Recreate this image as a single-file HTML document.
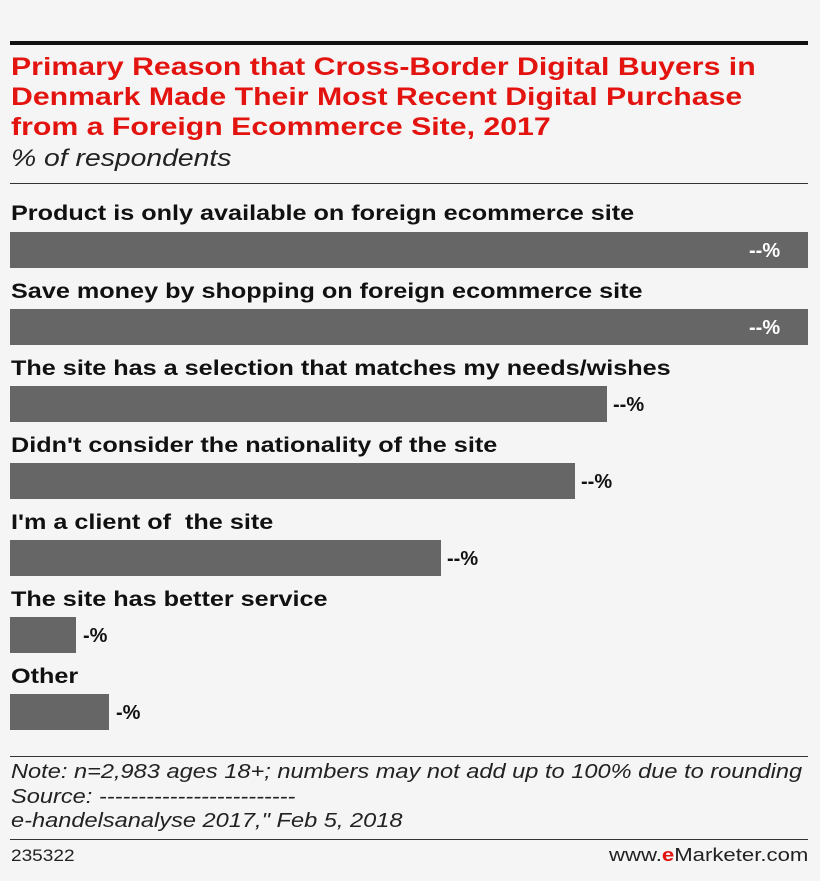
<!DOCTYPE html>
<html><head><meta charset="utf-8"><style>
body{margin:0;width:820px;height:881px;background:#f5f5f5;font-family:"Liberation Sans",sans-serif;position:relative;overflow:hidden}
.a{position:absolute;white-space:nowrap}
.s{transform-origin:0 0;transform:scaleX(1.2)}
.t{left:11px;color:#e3140f;font-weight:bold;font-size:25px;line-height:30px}
.l{left:11px;font-weight:bold;font-size:21px;color:#111}
.b{position:absolute;left:10px;height:36px;background:#666}
.v{font-weight:bold;font-size:20px;color:#111}
.n{left:11px;font-style:italic;font-size:20px;color:#222}
</style></head><body>
<div class="a" style="left:10px;top:41px;width:798px;height:4px;background:#111"></div>
<div class="a t s" style="top:52px;transform:scaleX(1.21)">Primary Reason that Cross-Border Digital Buyers in<br>Denmark Made Their Most Recent Digital Purchase<br>from a Foreign Ecommerce Site, 2017</div>
<div class="a s" style="left:11px;top:145px;font-style:italic;font-size:24px;color:#222;transform:scaleX(1.18)">% of respondents</div>
<div class="a" style="left:10px;top:183px;width:798px;height:1px;background:#333"></div>

<div class="a l s" style="top:202px">Product is only available on foreign ecommerce site</div>
<div class="b" style="top:232px;width:798px"></div>
<div class="a v" style="left:749px;top:240px;color:#fff">--%</div>

<div class="a l s" style="top:280px">Save money by shopping on foreign ecommerce site</div>
<div class="b" style="top:309px;width:798px"></div>
<div class="a v" style="left:749px;top:317px;color:#fff">--%</div>

<div class="a l s" style="top:357px">The site has a selection that matches my needs/wishes</div>
<div class="b" style="top:386px;width:597px"></div>
<div class="a v" style="left:613px;top:394px">--%</div>

<div class="a l s" style="top:434px">Didn't consider the nationality of the site</div>
<div class="b" style="top:463px;width:565px"></div>
<div class="a v" style="left:581px;top:471px">--%</div>

<div class="a l s" style="top:511px">I'm a client of &nbsp;the site</div>
<div class="b" style="top:540px;width:431px"></div>
<div class="a v" style="left:447px;top:548px">--%</div>

<div class="a l s" style="top:588px">The site has better service</div>
<div class="b" style="top:617px;width:66px"></div>
<div class="a v" style="left:83px;top:625px">-%</div>

<div class="a l s" style="top:665px">Other</div>
<div class="b" style="top:694px;width:99px"></div>
<div class="a v" style="left:116px;top:702px">-%</div>

<div class="a" style="left:10px;top:756px;width:798px;height:1px;background:#333"></div>
<div class="a n s" style="top:760px;line-height:24.5px;transform:scaleX(1.18)">Note: n=2,983 ages 18+; numbers may not add up to 100% due to rounding<br>Source: -------------------------<br>e-handelsanalyse 2017," Feb 5, 2018</div>
<div class="a" style="left:10px;top:839px;width:798px;height:1px;background:#333"></div>
<div class="a s" style="left:11px;top:846px;font-size:17px;color:#222;transform:scaleX(1.12)">235322</div>
<div class="a" style="left:609px;top:845px;font-size:18px;color:#222;transform-origin:0 0;transform:scaleX(1.23)">www.<b style="color:#e3140f">e</b>Marketer.com</div>
</body></html>
